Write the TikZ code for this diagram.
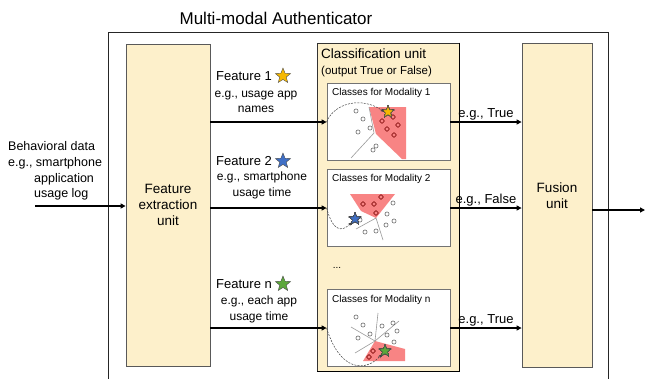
\documentclass[tikz,border=0pt]{standalone}
\usepackage{fontspec}
\setmainfont{Liberation Sans}
\usetikzlibrary{shapes.geometric,arrows.meta,positioning}
\definecolor{AUcream}{HTML}{FDF0CB}
\definecolor{AUred}{HTML}{F88484}
\definecolor{AUreddot}{HTML}{B03A3A}
\definecolor{AUgold}{HTML}{F6B800}
\definecolor{AUblue}{HTML}{3F6FC6}
\definecolor{AUgreen}{HTML}{5CA83A}
\definecolor{AUgrid}{HTML}{9A9A9A}
\newcommand{\dotout}[1]{%
  \draw[black!75, line width=0.45pt] #1 circle (2.1);}
\newcommand{\dotin}[1]{%
  \draw[AUreddot, line width=0.45pt] #1 circle (2.1);}

\begin{document}
\begin{tikzpicture}[x=1pt, y=-1pt,
  unitbox/.style={draw=black!65, fill=AUcream, line width=0.8pt, inner sep=0pt},
  modbox/.style={draw=black!55, fill=white, line width=0.8pt,
    minimum width=123, minimum height=77, inner sep=0pt},
  arr/.style={line width=1.7pt, -{Triangle[length=5pt, width=5pt]}},
  track/.style={black!75, line width=0.5pt, dash pattern=on 2pt off 1.2pt,
    -{Stealth[length=4pt, width=3pt]}},
  flabel/.style={font=\fontsize{13}{16}\selectfont, inner sep=0pt},
  elabel/.style={font=\fontsize{12}{15.5}\selectfont, align=center, inner sep=0pt},
  fstar/.style={star, star points=5, star point ratio=2.3, minimum size=16pt,
    inner sep=0pt, draw=black!70, line width=0.4pt},
  pstar/.style={fstar, minimum size=12pt},
  modlbl/.style={font=\fontsize{10}{12}\selectfont, anchor=west, inner sep=0pt}]

\useasboundingbox (0,0) rectangle (645,378);

% outer frame
\node[font=\fontsize{17}{20}\selectfont, inner sep=0pt] (ttl) at (276,18) {Multi-modal Authenticator};
\draw[black!85, line width=1pt] (108,380) -- (108,32) -- (608,32) -- (608,380);

% units
\node[unitbox, minimum width=84, minimum height=322, align=center,
  font=\fontsize{13.5}{16}\selectfont] (fe) at (168,205) {Feature\\extraction\\unit};
\node[draw=black!80, line width=0.8pt, fill=AUcream, minimum width=142,
  minimum height=328, inner sep=0pt] (cls) at (388,207) {};
\draw[black, line width=1.6pt] (cls.north east) -- (cls.south east) -- (cls.south west);
\node[unitbox, minimum width=70, minimum height=324] (fu) at (557,205) {};
\node[font=\fontsize{13.5}{16}\selectfont, align=center, inner sep=0pt] (fulbl) at (557,196) {Fusion\\unit};

\node[font=\fontsize{13.5}{16}\selectfont, anchor=west, inner sep=0pt] (clst) at (321,54) {Classification unit};
\node[font=\fontsize{11.5}{14}\selectfont, anchor=west, inner sep=0pt] (clso) at (321,72) {(output True or False)};

% modality boxes
\node[modbox] (m1) at (388.5,122) {};
\node[modbox] (m2) at (388.5,208) {};
\node[modbox] (mn) at (388.5,328) {};
\node[modlbl] (m1t) at (332,93) {Classes for Modality 1};
\node[modlbl] (m2t) at (332,179) {Classes for Modality 2};
\node[modlbl] (mnt) at (332,300) {Classes for Modality n};
\node[font=\fontsize{10}{12}\selectfont, inner sep=0pt] (dots) at (337,268) {...};

% modality 1
\fill[AUred] (369,107) -- (406,107) -- (406,159) -- (402,159) -- (376,134) -- cycle;
\draw[AUgrid, line width=0.6pt] (369,107) -- (374,133) -- (351,158);
\foreach \p in {(356,111),(363,119),(358,132),(370,128),(376,146),(373,150)}
  \dotout{\p}
\foreach \p in {(382,121),(393,117),(398,125),(387,129),(394,135)}
  \dotin{\p}
\node[pstar, fill=AUgold] (s1) at (388,112) {};
\draw[track] (m1.west) .. controls (334,103) and (362,96) .. (s1.west);

% modality 2
\fill[AUred] (350,194) -- (395,194) -- (376,218) -- (361,211) -- cycle;
\draw[AUgrid, line width=0.6pt] (356,229) -- (376,218) -- (383,240);
\foreach \p in {(393,203),(387,214),(394,221),(386,225),(376,231),(365,232),(360,220)}
  \dotout{\p}
\foreach \p in {(363,204),(374,204),(381,197),(376,213)}
  \dotin{\p}
\node[pstar, fill=AUblue] (s2) at (355,219) {};
\draw[track] (m2.west) .. controls (333,232) and (342,232) .. (s2.south west);

% modality n
\fill[AUred] (375,341) -- (405,349) -- (405,361) -- (363,361) -- cycle;
\foreach \q in {(378,313),(399,321),(351,327),(355,353)}
  \draw[AUgrid, line width=0.6pt] (375,341) -- \q;
\foreach \p in {(356,317),(363,325),(358,338),(370,334),(382,326),(393,323),(387,335),(397,331),(394,342)}
  \dotout{\p}
\foreach \p in {(373,351),(369,357)}
  \dotin{\p}
\node[pstar, fill=AUgreen] (s3) at (385,351) {};
\draw[track] (mn.west) .. controls (340,372) and (366,372) .. (s3.south west);

% feature labels
\node[flabel, anchor=west] (f1) at (216,76) {Feature 1};
\node[fstar, fill=AUgold, right=6pt of f1] (f1s) {};
\node[elabel] (f1e) at (256,102) {e.g., usage app\\names};
\node[flabel, anchor=west] (f2) at (216,161) {Feature 2};
\node[fstar, fill=AUblue, right=6pt of f2] (f2s) {};
\node[elabel] (f2e) at (262,185.5) {e.g., smartphone\\usage time};
\node[flabel, anchor=west] (f3) at (216,284) {Feature n};
\node[fstar, fill=AUgreen, right=6pt of f3] (f3s) {};
\node[elabel] (f3e) at (259,309.5) {e.g., each app\\usage time};

% input
\node[font=\fontsize{12.5}{15.7}\selectfont, align=left, anchor=west, inner sep=0pt] (bd) at (8,171)
  {Behavioral data\\e.g., smartphone\\\hspace*{26pt}application\\\hspace*{26pt}usage log};
\coordinate (in) at (35,206);
\draw[arr] (in) -- (fe.west |- in);

% arrows
\draw[arr] (fe.east |- m1.west) -- (m1.west);
\draw[arr] (fe.east |- m2.west) -- (m2.west);
\draw[arr] (fe.east |- mn.west) -- (mn.west);
\draw[arr] (m1.east) -- (fu.west |- m1.east)
  node[midway, above=1pt, flabel] (o1) {e.g., True};
\draw[arr] (m2.east) -- (fu.west |- m2.east)
  node[midway, above=1pt, flabel] (o2) {e.g., False};
\draw[arr] (mn.east) -- (fu.west |- mn.east)
  node[midway, above=1pt, flabel] (o3) {e.g., True};
\coordinate (out) at (645,210);
\draw[arr] (fu.east |- out) -- (out);

\end{tikzpicture}
\end{document}
